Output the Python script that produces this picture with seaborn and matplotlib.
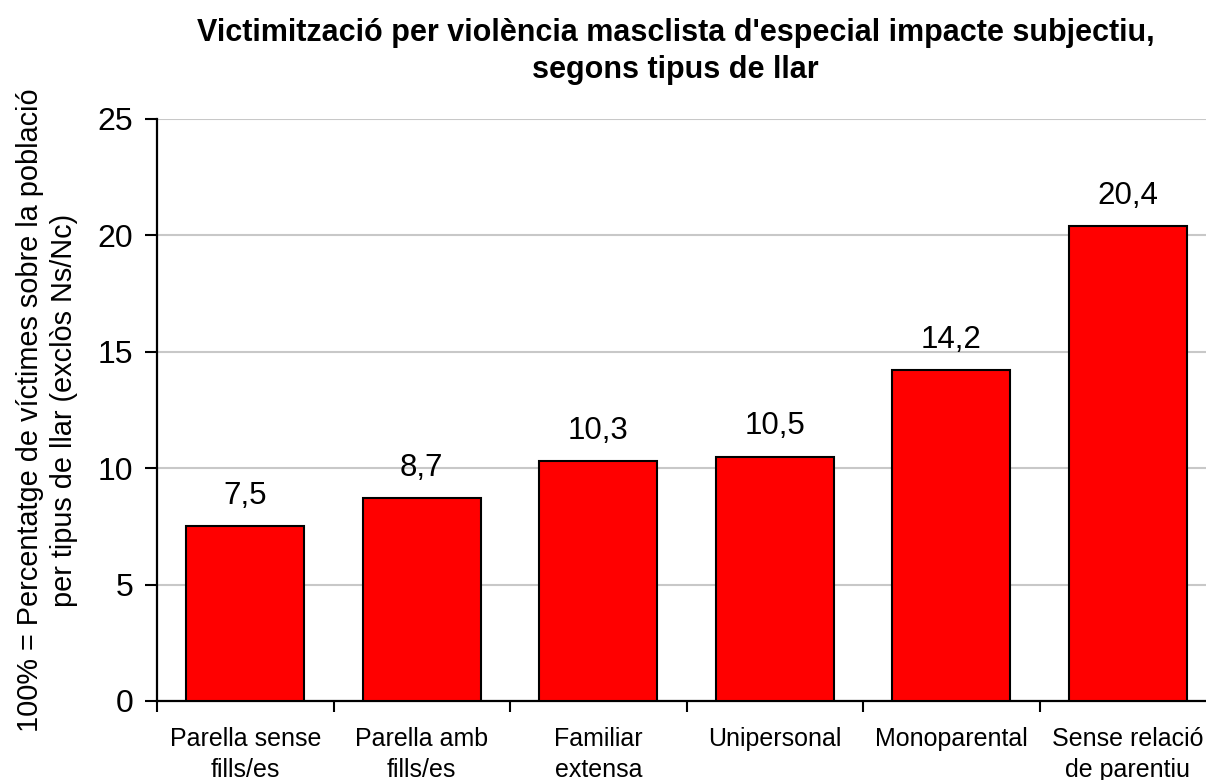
import matplotlib
matplotlib.use("Agg")
import matplotlib.pyplot as plt
import seaborn as sns
import pandas as pd
from matplotlib.ticker import FixedLocator

categories = ["Parella sense\nfills/es", "Parella amb\nfills/es", "Familiar\nextensa",
              "Unipersonal", "Monoparental", "Sense relació\nde parentiu"]
values = [7.5, 8.7, 10.3, 10.5, 14.2, 20.4]
yticks = [0, 5, 10, 15, 20, 25]
title = "Victimització per violència masclista d'especial impacte subjectiu,\nsegons tipus de llar"
ylabel = "100% = Percentatge de víctimes sobre la població\nper tipus de llar (exclòs Ns/Nc)"

sns.set_theme(style="white")
plt.rcParams['font.family'] = ['Liberation Sans', 'DejaVu Sans']
plt.rcParams['text.color'] = 'black'
plt.rcParams['axes.labelcolor'] = 'black'
plt.rcParams['xtick.color'] = 'black'
plt.rcParams['ytick.color'] = 'black'

df = pd.DataFrame({"cat": categories, "val": values})

fig = plt.figure(figsize=(12.06, 7.8), dpi=100)
ax = fig.add_axes([157/1206, 1-701/780, 1059/1206, (701-119)/780])

sns.barplot(data=df, x="cat", y="val", color="#FF0000", edgecolor="black",
            linewidth=1.5, width=0.67, saturation=1, ax=ax, zorder=3)

ax.set_ylim(0, 25)
ax.set_xlim(-0.5, len(categories) - 0.5)
ax.set_yticks(yticks)
ax.set_yticklabels([str(t) for t in yticks], fontsize=23)
ax.yaxis.grid(True, color="#C8C8C8", linewidth=1.5, zorder=0)
ax.set_axisbelow(True)

for s in ["top", "right"]:
    ax.spines[s].set_visible(False)
for s in ["left", "bottom"]:
    ax.spines[s].set_color("black")
    ax.spines[s].set_linewidth(1.6)

ax.tick_params(axis="y", direction="out", length=9, width=1.5, color="black", pad=8, left=True)
ax.tick_params(axis="x", which="major", length=0, pad=19, labelsize=18)
ax.xaxis.set_minor_locator(FixedLocator([i - 0.5 for i in range(len(categories) + 1)]))
ax.tick_params(axis="x", which="minor", direction="out", length=8, width=1.5, color="black", bottom=True)
for lab in ax.get_xticklabels():
    lab.set_linespacing(1.35)

ax.set_xlabel("")
ax.set_ylabel(ylabel, fontsize=20.8, labelpad=14, linespacing=1.3)

ax.bar_label(ax.containers[0], labels=[f"{v:.1f}".replace(".", ",") for v in values],
             padding=11, fontsize=22.5, color="black")

fig.text(0.56, 0.977, title, ha="center", va="top", fontsize=22, fontweight="bold",
         linespacing=1.32, color="black")

fig.savefig("out.png", dpi=100)
